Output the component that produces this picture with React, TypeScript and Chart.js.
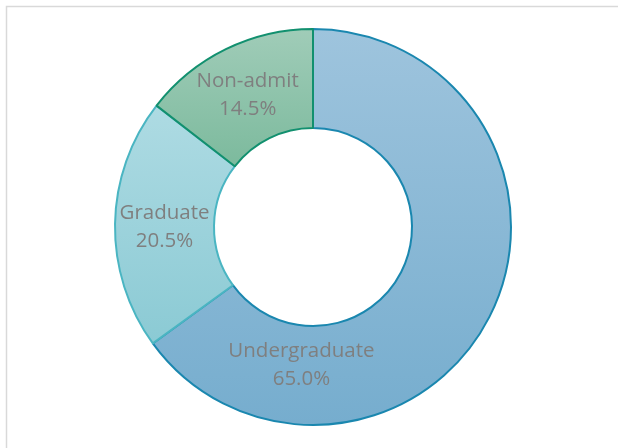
import { useEffect, useRef } from "react";
import { Chart, registerables } from "chart.js";

Chart.register(...registerables);

const categories = ["Undergraduate", "Graduate", "Non-admit"];
const shares = [65.0, 20.5, 14.5];
const percentLabels = ["65.0%", "20.5%", "14.5%"];
const gradientTop = ["#9EC4DD", "#AEDBE3", "#A0CCB8"];
const gradientBottom = ["#76ADCE", "#8BCAD4", "#7CBA9D"];
const borderColors = ["#1A87AF", "#4AB5C2", "#12906F"];
// where each label sits: fraction along the slice, fraction from inner to outer edge
const labelAlong = [0.79, 0.5, 0.5];
const labelRadial = [0.38, 0.5, 0.5];

const OUTER = 198;
const INNER = 99;

function sectorYRange(cy: number, a0: number, a1: number) {
  let minY = Infinity;
  let maxY = -Infinity;
  for (let k = 0; k <= 120; k++) {
    const a = a0 + ((a1 - a0) * k) / 120;
    for (const r of [INNER, OUTER]) {
      const y = cy + r * Math.sin(a);
      if (y < minY) minY = y;
      if (y > maxY) maxY = y;
    }
  }
  return [minY, maxY];
}

export default function App() {
  const ref = useRef<HTMLCanvasElement | null>(null);

  useEffect(() => {
    if (!ref.current) return;
    const total = shares.reduce((s, v) => s + v, 0);

    const framePlugin = {
      id: "frame",
      beforeDraw(chart: any) {
        const c = chart.ctx;
        c.save();
        c.fillStyle = "#FFFFFF";
        c.fillRect(0, 0, chart.width, chart.height);
        c.strokeStyle = "#D9D9D9";
        c.lineWidth = 1.5;
        c.strokeRect(6.5, 6.5, chart.width + 20, chart.height + 20);
        c.restore();
      },
    };

    const labelPlugin = {
      id: "sliceLabels",
      afterDatasetsDraw(chart: any) {
        const meta = chart.getDatasetMeta(0);
        const c = chart.ctx;
        c.save();
        c.fillStyle = "#7F7F7F";
        c.font = '20.5px "Open Sans"';
        c.textAlign = "center";
        c.textBaseline = "middle";
        meta.data.forEach((el: any, i: number) => {
          const p = el.getProps(["x", "y", "startAngle", "endAngle", "innerRadius", "outerRadius"], true);
          const a = p.startAngle + labelAlong[i] * (p.endAngle - p.startAngle);
          const r = p.innerRadius + labelRadial[i] * (p.outerRadius - p.innerRadius);
          const x = p.x + r * Math.cos(a);
          const y = p.y + r * Math.sin(a);
          c.fillText(categories[i], x, y - 12);
          c.fillText(percentLabels[i], x, y + 16);
        });
        c.restore();
      },
    };

    const chart = new Chart(ref.current, {
      type: "doughnut",
      data: {
        labels: categories,
        datasets: [
          {
            data: shares,
            backgroundColor: (ctx: any) => {
              const i = ctx.dataIndex ?? 0;
              const chartArea = ctx.chart.chartArea;
              if (ctx.type !== "data" || !chartArea) return gradientTop[i];
              const cy = (chartArea.top + chartArea.bottom) / 2;
              let before = 0;
              for (let k = 0; k < i; k++) before += shares[k];
              const a0 = (before / total) * Math.PI * 2 - Math.PI / 2;
              const a1 = ((before + shares[i]) / total) * Math.PI * 2 - Math.PI / 2;
              const [y0, y1] = sectorYRange(cy, a0, a1);
              const g = ctx.chart.ctx.createLinearGradient(0, y0, 0, y1);
              g.addColorStop(0, gradientTop[i]);
              g.addColorStop(1, gradientBottom[i]);
              return g;
            },
            borderColor: borderColors,
            borderWidth: 2,
            hoverOffset: 0,
          },
        ],
      },
      options: {
        responsive: false,
        animation: false,
        radius: OUTER,
        cutout: "50%",
        layout: { padding: { left: 8, top: 6, right: 0, bottom: 0 } },
        plugins: {
          legend: { display: false },
          tooltip: { enabled: false },
        },
      } as any,
      plugins: [framePlugin, labelPlugin],
    });

    return () => chart.destroy();
  }, []);

  return (
    <div style={{ position: "absolute", left: 0, top: 0, width: 618, height: 448 }}>
      <canvas ref={ref} width={618} height={448} />
    </div>
  );
}
